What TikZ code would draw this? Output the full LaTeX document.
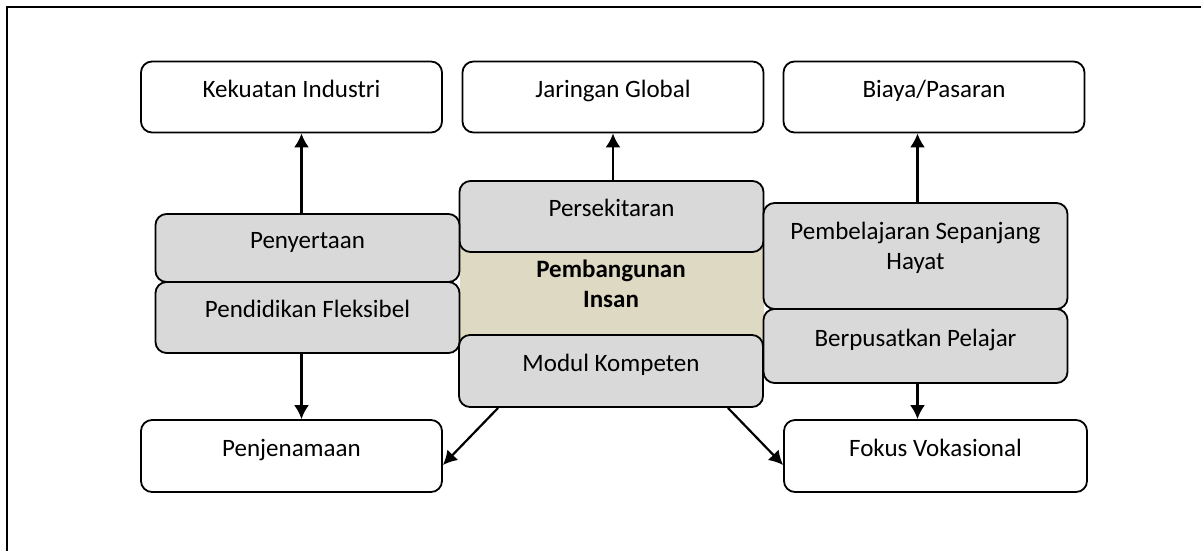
\documentclass[tikz,border=0pt]{standalone}
\usepackage{fontspec}
\setmainfont{Carlito}
\usepackage{tikz}
\usepackage{xcolor}
\usetikzlibrary{arrows.meta}

\definecolor{boxgray}{RGB}{217,217,217}
\definecolor{corebeige}{RGB}{221,217,195}

\begin{document}
\begin{tikzpicture}[x=1pt, y=-1pt,
    font=\fontsize{25}{30}\selectfont,
    outerbox/.style={rectangle, rounded corners=11pt, draw=black, line width=1.8pt, fill=white, minimum width=301, minimum height=71, text height=12pt, text depth=12pt},
    innerbox/.style={outerbox, fill=boxgray, minimum width=304},
    core/.style={rectangle, fill=corebeige, minimum width=304, minimum height=155}]
        \useasboundingbox (0,0) rectangle (1201,550);
        \draw[line width=2.6pt] (7,552) -- (7,7) -- (1203,7);

        \node[outerbox] (Kekuatan) at (291.5,97) {Kekuatan Industri};
        \node[outerbox] (Jaringan) at (613,97) {Jaringan Global};
        \node[outerbox] (Biaya) at (934,97) {Biaya/Pasaran};
        \node[outerbox, minimum height=72] (Penjenamaan) at (291.5,456) {Penjenamaan};
        \node[outerbox, minimum height=72, minimum width=303] (Fokus) at (935.5,456) {Fokus Vokasional};

        \node[core] (core) at (612,293.5) {};
        \node[align=center, font=\fontsize{25}{30}\selectfont\bfseries] (coretext) at (611,284) {Pembangunan\\Insan};

        \node[innerbox] (Persekitaran) at (611.5,216.5) {Persekitaran};
        \node[innerbox, minimum height=72] (Modul) at (611,371) {Modul Kompeten};
        \node[innerbox, minimum height=68] (Penyertaan) at (307.5,248) {Penyertaan};
        \node[innerbox] (Pendidikan) at (307.5,317.5) {Pendidikan Fleksibel};
        \node[innerbox, minimum height=106, text height=, text depth=, align=center] (Pembelajaran) at (915.5,256) {Pembelajaran Sepanjang\\Hayat\rule[-20pt]{0pt}{20pt}};
        \node[innerbox, minimum height=74] (Berpusatkan) at (915.5,346) {Berpusatkan Pelajar};

        \tikzset{arrow/.style={line width=2.2pt, -{Latex[length=14pt,width=15pt]}}}

        \draw[arrow] ([xshift=-6]Penyertaan.north) -- ([xshift=-6]Penyertaan.north |- Kekuatan.south);
        \draw[arrow] (Persekitaran.north -| Jaringan.south) -- (Jaringan.south);
        \draw[arrow] ([xshift=2]Pembelajaran.north) -- ([xshift=2]Pembelajaran.north |- Biaya.south);
        \draw[arrow] ([xshift=-6]Pendidikan.south) -- ([xshift=-6]Pendidikan.south |- Penjenamaan.north);
        \draw[arrow] ([xshift=2]Berpusatkan.south) -- ([xshift=2]Berpusatkan.south |- Fokus.north);
        \draw[arrow] ([xshift=40]Modul.south west) -- ([yshift=-9]Penjenamaan.east);
        \draw[arrow] ([xshift=-36]Modul.south east) -- ([yshift=-9]Fokus.west);

    \end{tikzpicture}
\end{document}
